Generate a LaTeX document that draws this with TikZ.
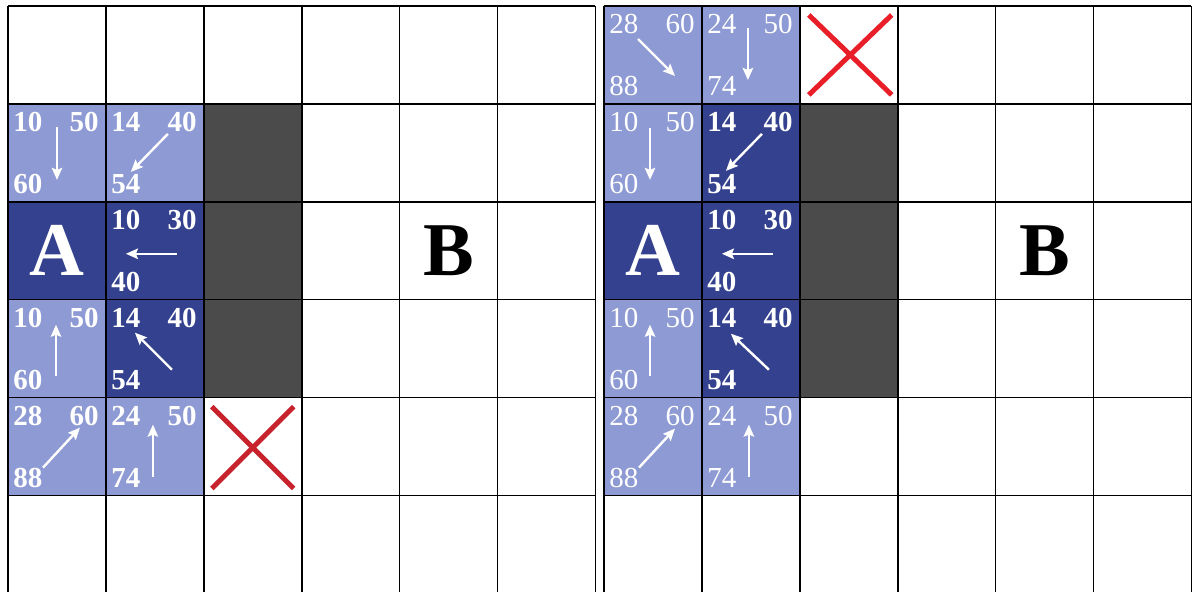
\documentclass[tikz,border=0pt]{standalone}
\usepackage{fontspec}
\setmainfont{Liberation Serif}
\usetikzlibrary{arrows.meta}
\definecolor{lightcell}{RGB}{142,154,212}
\definecolor{darkcell}{RGB}{52,65,143}
\definecolor{wallcell}{RGB}{75,75,75}
\definecolor{crossL}{RGB}{200,35,45}
\definecolor{crossR}{RGB}{232,30,40}
\tikzset{
  numbold/.style={text=white,inner sep=0pt,font=\fontsize{14.5}{15}\selectfont\bfseries},
  numthin/.style={text=white,inner sep=0pt,font=\fontsize{14.5}{15}\selectfont},
  bigletter/.style={inner sep=0pt,font=\fontsize{38}{40}\selectfont\bfseries},
  dirarrow/.style={white,line width=1.2pt,-{Stealth[length=6pt,width=5.2pt,inset=1pt]}},
  gridline/.style={black,line width=0.8pt},
  xmark/.style={line width=2.5pt},
}
\newcommand{\gx}{8}
% #1 name, #2 col, #3 row, #4 fill, #5 text style, #6 tl, #7 tr, #8 bl
\newcommand{\numcell}[8]{%
  \begin{scope}[shift={(\gx+#2*97.9,6+#3*97.9)}]
    \fill[#4] (0,0) rectangle (97.9,97.9);
    \node[#5,anchor=west] (#1tl) at (5,18) {#6};
    \node[#5,anchor=east] (#1tr) at (91,18) {#7};
    \node[#5,anchor=west] (#1bl) at (5,80) {#8};
  \end{scope}}
% #1 col, #2 row, #3 start, #4 end (cell-relative)
\newcommand{\cellarrow}[4]{%
  \begin{scope}[shift={(\gx+#1*97.9,6+#2*97.9)}]
    \draw[dirarrow] #3 -- #4;
  \end{scope}}
\newcommand{\plaincell}[3]{% col,row,fill
  \fill[#3] (\gx+#1*97.9,6+#2*97.9) rectangle ++(97.9,97.9);}
\newcommand{\gridlines}{%
  \foreach \k in {0,...,6}{\draw[gridline] (\gx+\k*97.9,6) -- (\gx+\k*97.9,592);}
  \foreach \k in {0,...,5}{\draw[gridline] (\gx,6+\k*97.9) -- (\gx+6*97.9,6+\k*97.9);}}
\begin{document}
\begin{tikzpicture}[x=0.5pt,y=-0.5pt]
\useasboundingbox (0,0) rectangle (1194,592);
\clip (0,0) rectangle (1194,592);
\fill[white] (0,0) rectangle (1194,592);
% ---------------- left grid ----------------
\renewcommand{\gx}{8}
\numcell{La}{0}{1}{lightcell}{numbold}{10}{50}{60}
\cellarrow{0}{1}{(49,23)}{(49,76)}
\numcell{Lb}{1}{1}{lightcell}{numbold}{14}{40}{54}
\cellarrow{1}{1}{(62,30)}{(25,68)}
\plaincell{2}{1}{wallcell}
\plaincell{0}{2}{darkcell}
\node[bigletter,text=white] (LA) at (\gx+0.5*97.9,6+2.5*97.9) {A};
\numcell{Lc}{1}{2}{darkcell}{numbold}{10}{30}{40}
\cellarrow{1}{2}{(71,52)}{(20,52)}
\plaincell{2}{2}{wallcell}
\node[bigletter,text=black] (LB) at (\gx+4.5*97.9,6+2.5*97.9) {B};
\numcell{Ld}{0}{3}{lightcell}{numbold}{10}{50}{60}
\cellarrow{0}{3}{(48,76)}{(48,25)}
\numcell{Le}{1}{3}{darkcell}{numbold}{14}{40}{54}
\cellarrow{1}{3}{(66,70)}{(29,33)}
\plaincell{2}{3}{wallcell}
\numcell{Lf}{0}{4}{lightcell}{numbold}{28}{60}{88}
\cellarrow{0}{4}{(35,70)}{(72,30)}
\numcell{Lg}{1}{4}{lightcell}{numbold}{24}{50}{74}
\cellarrow{1}{4}{(47,79)}{(47,27)}
\draw[xmark,crossL] (\gx+2*97.9+8,6+4*97.9+9) -- (\gx+3*97.9-8,6+5*97.9-7);
\draw[xmark,crossL] (\gx+3*97.9-8,6+4*97.9+9) -- (\gx+2*97.9+8,6+5*97.9-7);
\gridlines
% ---------------- right grid ----------------
\renewcommand{\gx}{604}
\numcell{Ra}{0}{0}{lightcell}{numthin}{28}{60}{88}
\cellarrow{0}{0}{(34,33)}{(71,70)}
\numcell{Rb}{1}{0}{lightcell}{numthin}{24}{50}{74}
\cellarrow{1}{0}{(46,22)}{(46,74)}
\draw[xmark,crossR] (\gx+2*97.9+9,6+9) -- (\gx+3*97.9-6,6+97.9-9);
\draw[xmark,crossR] (\gx+3*97.9-6,6+9) -- (\gx+2*97.9+9,6+97.9-9);
\numcell{Rc}{0}{1}{lightcell}{numthin}{10}{50}{60}
\cellarrow{0}{1}{(46,24)}{(46,76)}
\numcell{Rd}{1}{1}{darkcell}{numbold}{14}{40}{54}
\cellarrow{1}{1}{(60,30)}{(24,67)}
\plaincell{2}{1}{wallcell}
\plaincell{0}{2}{darkcell}
\node[bigletter,text=white] (RA) at (\gx+0.5*97.9,6+2.5*97.9) {A};
\numcell{Re}{1}{2}{darkcell}{numbold}{10}{30}{40}
\cellarrow{1}{2}{(71,52)}{(20,52)}
\plaincell{2}{2}{wallcell}
\node[bigletter,text=black] (RB) at (\gx+4.5*97.9,6+2.5*97.9) {B};
\numcell{Rf}{0}{3}{lightcell}{numthin}{10}{50}{60}
\cellarrow{0}{3}{(46,76)}{(46,25)}
\numcell{Rg}{1}{3}{darkcell}{numbold}{14}{40}{54}
\cellarrow{1}{3}{(67,70)}{(29,34)}
\plaincell{2}{3}{wallcell}
\numcell{Rh}{0}{4}{lightcell}{numthin}{28}{60}{88}
\cellarrow{0}{4}{(35,70)}{(71,31)}
\numcell{Ri}{1}{4}{lightcell}{numthin}{24}{50}{74}
\cellarrow{1}{4}{(47,79)}{(47,27)}
\gridlines
\end{tikzpicture}
\end{document}
